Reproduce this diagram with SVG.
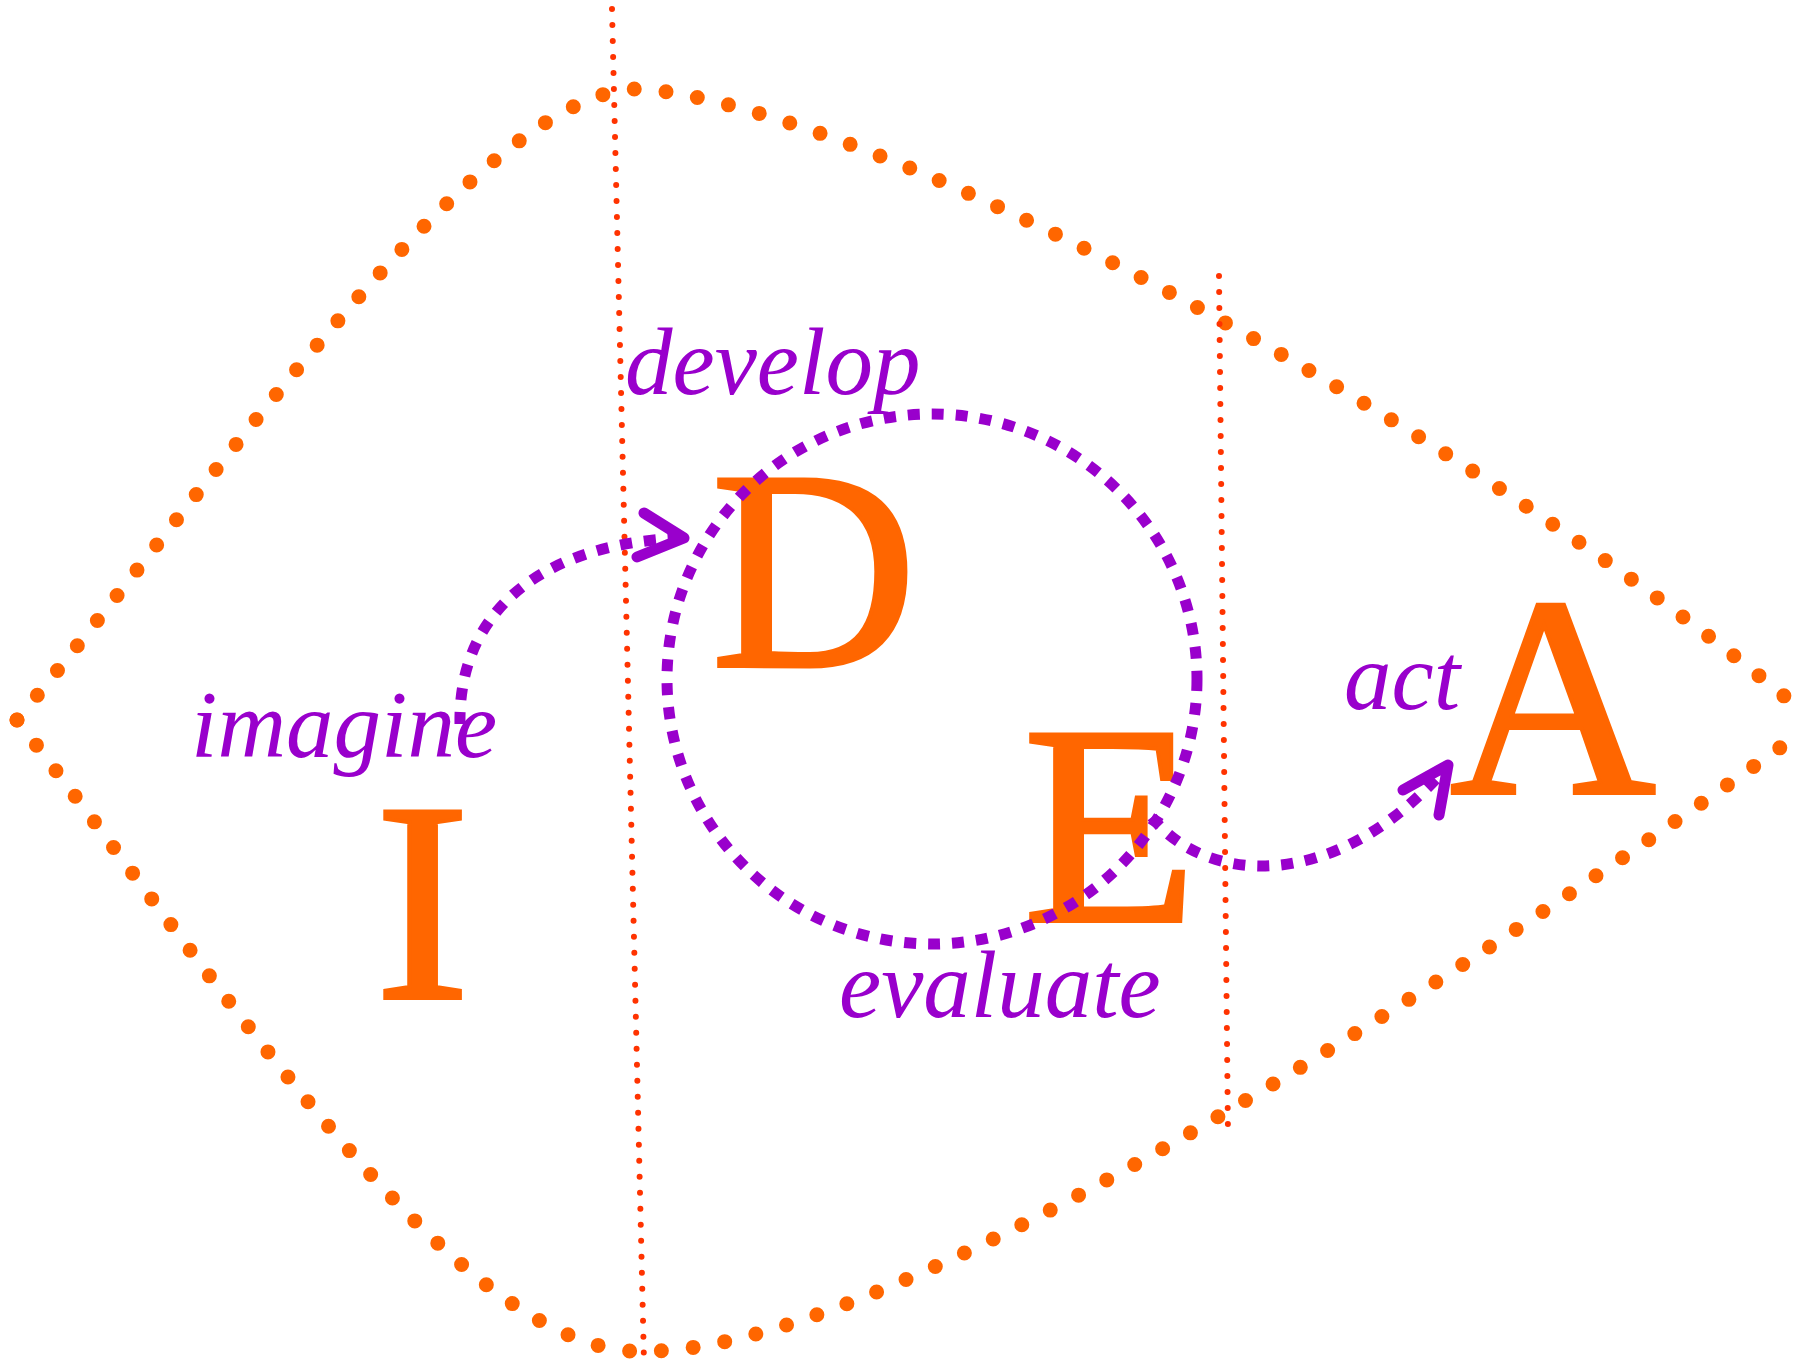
<svg xmlns="http://www.w3.org/2000/svg" width="1807" height="1362" viewBox="0 0 1807 1362">
<style>
.frame{fill:none;stroke:#FF6600;stroke-width:15;stroke-linecap:round;stroke-dasharray:0 32}
.divider{fill:none;stroke:#FF3300;stroke-width:6;stroke-linecap:round;stroke-dasharray:0 16}
.flow{fill:none;stroke:#9900CC;stroke-width:11;stroke-dasharray:12 12}
.head{fill:none;stroke:#9900CC;stroke-width:11;stroke-linecap:round;stroke-linejoin:round}
.big{font-family:"Liberation Serif","Times New Roman",serif;font-size:285px;fill:#FF6600;stroke:#FF6600;stroke-width:4}
.lbl{font-family:"Liberation Serif","Times New Roman",serif;font-style:italic;font-size:95px;fill:#9900CC}
</style>
<rect width="1807" height="1362" fill="#FFFFFF"/>
<g id="frame">
<path class="frame" d="M17,720 C220,476 486,81 643,89 C880,110 1448,417 1795,705"/>
<path class="frame" d="M17,720 C232,996 463,1367 654,1351 C903,1344 1448,985 1795,737"/>
</g>
<g id="dividers">
<path class="divider" d="M612,9 L644,1362"/>
<path class="divider" d="M1219,276 L1228,1135"/>
</g>
<g id="node-I"><text class="big" x="375" y="998">I</text><text class="lbl" x="191" y="757">imagine</text></g>
<g id="node-D"><text class="big" x="711" y="666">D</text><text class="lbl" x="625" y="394">develop</text></g>
<g id="node-E"><text class="big" x="1023" y="921">E</text><text class="lbl" x="839" y="1017">evaluate</text></g>
<g id="node-A"><text class="big" x="1450" y="793">A</text><text class="lbl" x="1344" y="709">act</text></g>
<g id="connectors">
<circle class="flow" cx="932" cy="679" r="265"/>
<path class="flow" d="M460,724 C458,620 530,545 680,538"/>
<polyline class="head" points="644,513 684,538 637,557"/>
<path class="flow" d="M1152,817 C1200,880 1330,900 1446,768"/>
<polyline class="head" points="1403,790 1448,765 1439,815"/>
</g>
</svg>
